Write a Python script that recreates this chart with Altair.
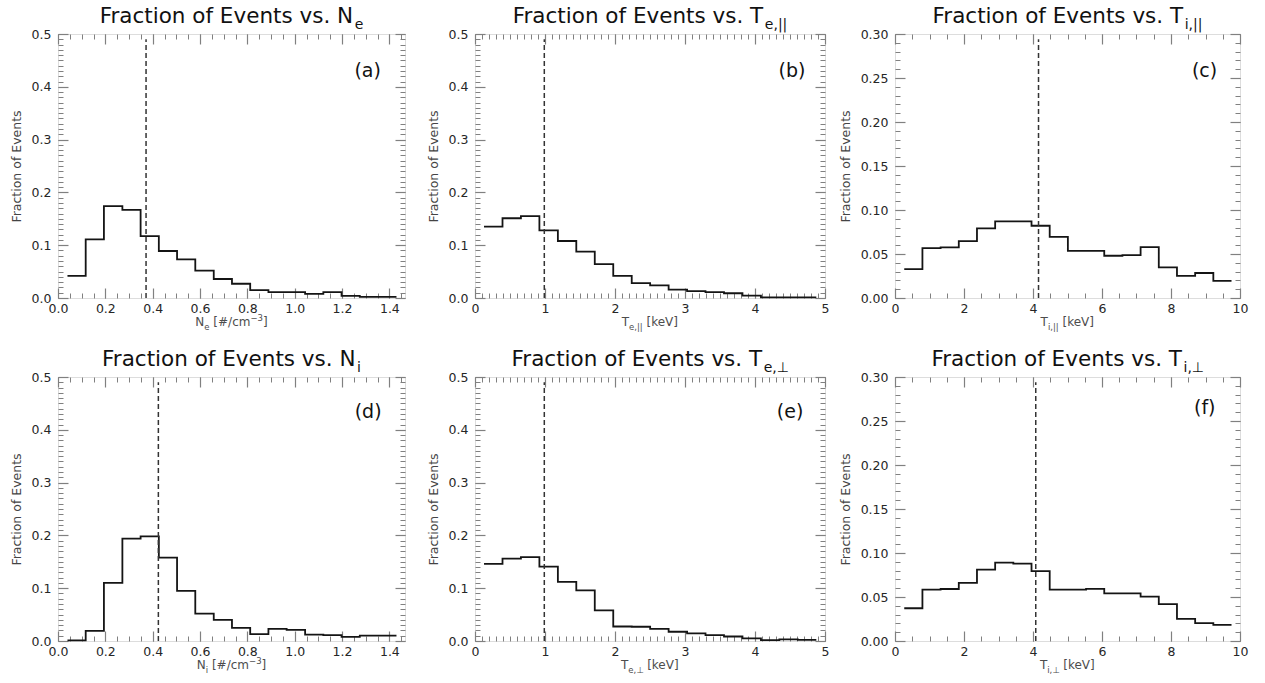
import altair as alt
import pandas as pd

# ---------------- data ----------------
edges_n = [0.040, 0.117, 0.194, 0.272, 0.349, 0.426, 0.503, 0.580, 0.658, 0.735,
           0.812, 0.889, 0.966, 1.044, 1.121, 1.198, 1.275, 1.352, 1.430]
edges_te = [0.129, 0.393, 0.656, 0.920, 1.184, 1.447, 1.711, 1.975, 2.239, 2.502,
            2.766, 3.030, 3.293, 3.557, 3.821, 4.085, 4.348, 4.612, 4.876]
edges_ti = [0.268, 0.795, 1.322, 1.849, 2.376, 2.903, 3.430, 3.957, 4.484, 5.011,
            5.538, 6.065, 6.592, 7.119, 7.646, 8.173, 8.700, 9.227, 9.754]

frac_ne = [0.042, 0.111, 0.174, 0.167, 0.117, 0.089, 0.073, 0.052, 0.036, 0.027,
           0.015, 0.011, 0.011, 0.008, 0.011, 0.004, 0.002, 0.002]
frac_te_par = [0.135, 0.151, 0.155, 0.128, 0.108, 0.088, 0.064, 0.042, 0.028, 0.024,
               0.016, 0.013, 0.011, 0.009, 0.0045, 0.001, 0.001, 0.001]
frac_ti_par = [0.0327, 0.0566, 0.0575, 0.0647, 0.0792, 0.0870, 0.0870, 0.0821, 0.0695,
               0.0535, 0.0535, 0.0480, 0.0487, 0.0577, 0.0347, 0.0251, 0.0284, 0.0194]
frac_ni = [0.001, 0.019, 0.110, 0.194, 0.198, 0.158, 0.095, 0.052, 0.040, 0.025,
           0.013, 0.023, 0.021, 0.012, 0.011, 0.008, 0.010, 0.010]
frac_te_perp = [0.146, 0.156, 0.159, 0.141, 0.112, 0.096, 0.058, 0.0275, 0.027, 0.023,
                0.0175, 0.0144, 0.011, 0.0085, 0.005, 0.0015, 0.003, 0.0022]
frac_ti_perp = [0.0372, 0.0583, 0.0591, 0.0660, 0.0810, 0.0890, 0.0880, 0.0793, 0.0583,
                0.0583, 0.0592, 0.0542, 0.0542, 0.0505, 0.0420, 0.0251, 0.0202, 0.0183]

medians = [0.372, 0.99, 4.16, 0.424, 0.99, 4.08]
panel_labels = ["(a)", "(b)", "(c)", "(d)", "(e)", "(f)"]
label_x = [1.364, 4.72, 9.34, 1.367, 4.69, 9.29]
label_y = [0.430, 0.430, 0.258, 0.434, 0.434, 0.265]

xticks_n = [0.0, 0.2, 0.4, 0.6, 0.8, 1.0, 1.2, 1.4]
xticks_te = [0, 1, 2, 3, 4, 5]
xticks_ti = [0, 2, 4, 6, 8, 10]
yticks_05 = [0.0, 0.1, 0.2, 0.3, 0.4, 0.5]
yticks_03 = [0.00, 0.05, 0.10, 0.15, 0.20, 0.25, 0.30]

FONT = "DejaVu Sans"
FRAME = "#808080"

# DejaVu Sans advance widths (units of 1/2048 em), for composing sub/superscripts
W = {' ': 651, '#': 1716, '(': 799, ')': 799, ',': 651, '.': 651, '/': 690, '3': 1303,
     '[': 799, ']': 799, '|': 690, 'E': 1294, 'F': 1178, 'N': 1532, 'T': 1251, 'V': 1401,
     'a': 1255, 'c': 1126, 'e': 1260, 'f': 721, 'i': 569, 'k': 1186, 'm': 1995, 'n': 1298,
     'o': 1253, 'r': 842, 's': 1067, 't': 803, 'v': 1212, '⊥': 1716, '−': 1716}


def tw(s, fs):
    return sum(W.get(c, 1250) for c in s) / 2048 * fs


dummy = pd.DataFrame({"d": [0]})


def text_segments(segs, cx, base_y):
    total = sum(tw(t, fs) for t, fs, dy, col in segs)
    x = cx - total / 2
    out = []
    for t, fs, dy, col in segs:
        lead = len(t) - len(t.lstrip(" "))
        x_draw = x + tw(" " * lead, fs)
        out.append(
            alt.Chart(dummy).mark_text(text=t.strip(" "), align="left", baseline="alphabetic",
                                       fontSize=fs, color=col, font=FONT)
            .encode(x=alt.value(x_draw), y=alt.value(base_y + dy))
        )
        x += tw(t, fs)
    return out


def minor(lo, hi, step):
    n = int(round((hi - lo) / step))
    return [round(lo + i * step, 4) for i in range(n + 1)]


TCOL = "#111111"
XCOL = "#4d4d4d"


def title_segs(sym, sub):
    return [("Fraction of Events vs. " + sym, 21.5, 0, TCOL), (sub, 14, 5.5, TCOL)]


def xt_dens(sym, sub):
    return [(sym, 12, 0, XCOL), (sub, 8.5, 3.5, XCOL), (" [#/cm", 12, 0, XCOL),
            ("−3", 8.5, -5, XCOL), ("]", 12, 0, XCOL)]


def xt_temp(sym, sub):
    return [(sym, 12, 0, XCOL), (sub, 8.5, 3.5, XCOL), (" [keV]", 12, 0, XCOL)]


specs = [
    dict(edges=edges_n, vals=frac_ne, xdom=[0, 1.466], xmaj=xticks_n, xmin=minor(0, 1.45, 0.05),
         xfmt=".1f", ydom=[0, 0.5], ymaj=yticks_05, ymin=minor(0, 0.5, 0.01), yfmt=".1f",
         title=title_segs("N", "e"), xt=xt_dens("N", "e"), dtop=0.49, w=347),
    dict(edges=edges_te, vals=frac_te_par, xdom=[0, 5], xmaj=xticks_te, xmin=minor(0, 5, 0.1),
         xfmt="d", ydom=[0, 0.5], ymaj=yticks_05, ymin=minor(0, 0.5, 0.01), yfmt=".1f",
         title=title_segs("T", "e,||"), xt=xt_temp("T", "e,||"), dtop=0.49, w=350),
    dict(edges=edges_ti, vals=frac_ti_par, xdom=[0, 10], xmaj=xticks_ti, xmin=minor(0, 10, 0.5),
         xfmt="d", ydom=[0, 0.3], ymaj=yticks_03, ymin=minor(0, 0.3, 0.01), yfmt=".2f",
         title=title_segs("T", "i,||"), xt=xt_temp("T", "i,||"), dtop=0.294, w=345),
    dict(edges=edges_n, vals=frac_ni, xdom=[0, 1.466], xmaj=xticks_n, xmin=minor(0, 1.45, 0.05),
         xfmt=".1f", ydom=[0, 0.5], ymaj=yticks_05, ymin=minor(0, 0.5, 0.01), yfmt=".1f",
         title=title_segs("N", "i"), xt=xt_dens("N", "i"), dtop=0.49, w=347),
    dict(edges=edges_te, vals=frac_te_perp, xdom=[0, 5], xmaj=xticks_te, xmin=minor(0, 5, 0.1),
         xfmt="d", ydom=[0, 0.5], ymaj=yticks_05, ymin=minor(0, 0.5, 0.01), yfmt=".1f",
         title=title_segs("T", "e,⊥"), xt=xt_temp("T", "e,⊥"), dtop=0.49, w=350),
    dict(edges=edges_ti, vals=frac_ti_perp, xdom=[0, 10], xmaj=xticks_ti, xmin=minor(0, 10, 0.5),
         xfmt="d", ydom=[0, 0.3], ymaj=yticks_03, ymin=minor(0, 0.3, 0.01), yfmt=".2f",
         title=title_segs("T", "i,⊥"), xt=xt_temp("T", "i,⊥"), dtop=0.294, w=345),
]

H = 264
common_axis = dict(domain=False, grid=False, tickColor=FRAME, tickWidth=1.2,
                   labelFont=FONT, labelFontSize=12.5, labelColor="#262626",
                   labelFlush=False, labelOverlap=False, labelBound=False)

panels = []
for i, s in enumerate(specs):
    w = s["w"]
    df = pd.DataFrame({"x": s["edges"], "y": s["vals"] + [s["vals"][-1]]})
    xs = alt.Scale(domain=s["xdom"], nice=False, zero=False)
    ys = alt.Scale(domain=s["ydom"], nice=False)

    ax_b = alt.Axis(orient="bottom", values=s["xmaj"], format=s["xfmt"], offset=-10, tickSize=10,
                    labelPadding=4, title=None, **common_axis)
    ax_l = alt.Axis(orient="left", values=s["ymaj"], format=s["yfmt"], offset=-10, tickSize=10,
                    labelPadding=7, title="Fraction of Events", titleFont=FONT, titleFontSize=12.5,
                    titleFontWeight="normal", titleColor="#444444", titlePadding=8, **common_axis)
    ax_bm = alt.Axis(orient="bottom", values=s["xmin"], offset=-5, tickSize=5, labels=False,
                     title=None, domain=False, grid=False, tickColor=FRAME, tickWidth=1)
    ax_lm = alt.Axis(orient="left", values=s["ymin"], offset=-5, tickSize=5, labels=False,
                     title=None, domain=False, grid=False, tickColor=FRAME, tickWidth=1)
    ax_t = alt.Axis(orient="top", values=s["xmaj"], offset=-10, tickSize=10, labels=False,
                    title=None, domain=False, grid=False, tickColor=FRAME, tickWidth=1.2)
    ax_r = alt.Axis(orient="right", values=s["ymaj"], offset=-10, tickSize=10, labels=False,
                    title=None, domain=False, grid=False, tickColor=FRAME, tickWidth=1.2)
    ax_tm = alt.Axis(orient="top", values=s["xmin"], offset=-5, tickSize=5, labels=False,
                     title=None, domain=False, grid=False, tickColor=FRAME, tickWidth=1)
    ax_rm = alt.Axis(orient="right", values=s["ymin"], offset=-5, tickSize=5, labels=False,
                     title=None, domain=False, grid=False, tickColor=FRAME, tickWidth=1)

    base = alt.Chart(df)
    hist = base.mark_line(interpolate="step-after", color="#141414", strokeWidth=1.8).encode(
        x=alt.X("x:Q", scale=xs, axis=ax_b), y=alt.Y("y:Q", scale=ys, axis=ax_l))
    l2 = base.mark_line(opacity=0).encode(
        x=alt.X("x:Q", scale=xs, axis=ax_bm), y=alt.Y("y:Q", scale=ys, axis=ax_lm))
    l3 = base.mark_line(opacity=0).encode(
        x=alt.X("x:Q", scale=xs, axis=ax_t), y=alt.Y("y:Q", scale=ys, axis=ax_r))
    l4 = base.mark_line(opacity=0).encode(
        x=alt.X("x:Q", scale=xs, axis=ax_tm), y=alt.Y("y:Q", scale=ys, axis=ax_rm))

    mdf = pd.DataFrame({"m": [medians[i]], "y0": [0.0], "y1": [s["dtop"]]})
    med = alt.Chart(mdf).mark_rule(color="#333333", strokeWidth=1.5, strokeDash=[5, 3]).encode(
        x=alt.X("m:Q", scale=xs, axis=None), y=alt.Y("y0:Q", scale=ys, axis=None), y2="y1:Q")

    ldf = pd.DataFrame({"lx": [label_x[i]], "ly": [label_y[i]], "t": [panel_labels[i]]})
    lab = alt.Chart(ldf).mark_text(align="right", baseline="middle", fontSize=19, font=FONT,
                                   color=TCOL).encode(
        x=alt.X("lx:Q", scale=xs, axis=None), y=alt.Y("ly:Q", scale=ys, axis=None), text="t:N")

    layers = [hist, l2, l3, l4, med, lab]
    layers += text_segments(s["title"], w / 2, -11)
    layers += text_segments(s["xt"], w / 2, H + 28)

    panel = alt.layer(*layers).resolve_axis(x="independent", y="independent").properties(
        width=w, height=H)
    panels.append(panel)

chart = alt.concat(*panels, columns=3, spacing={"row": 79, "column": 70}, bounds="flush").properties(
    padding={"left": 9, "top": 5, "right": 5, "bottom": 5}
).configure_view(stroke=FRAME, strokeWidth=1.5).configure(font=FONT, background="white")

chart.save("out.html", embed_options={"renderer": "svg", "actions": False})
